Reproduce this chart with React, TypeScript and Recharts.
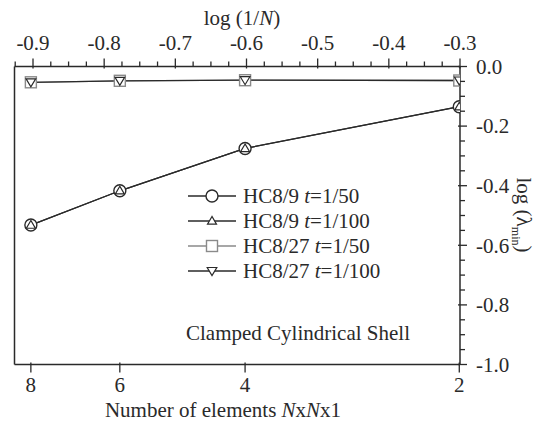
import React from "react";
import { LineChart, Line, XAxis, YAxis, Legend } from "recharts";

// Element counts N (bottom axis) and their log(1/N) positions (top axis)
const elementCounts = [8, 6, 4, 2];
const logInvN = [-0.903, -0.778, -0.602, -0.301];

// log(lambda_min) series
const hc9_t50 = [-0.532, -0.417, -0.275, -0.135];
const hc9_t100 = [-0.532, -0.417, -0.275, -0.135];
const hc27_t50 = [-0.053, -0.048, -0.046, -0.047];
const hc27_t100 = [-0.053, -0.048, -0.046, -0.047];

// Tick labels
const topMajorLabels = [-0.9, -0.8, -0.7, -0.6, -0.5, -0.4, -0.3];
const rightMajorLabels = [0.0, -0.2, -0.4, -0.6, -0.8, -1.0];

const data = logInvN.map((x, i) => ({
  x,
  n: elementCounts[i],
  a: hc9_t50[i],
  b: hc9_t100[i],
  c: hc27_t50[i],
  d: hc27_t100[i],
}));

const FONT = '"Liberation Serif", "Times New Roman", serif';
const INK = "#2a2a2a";
const GRAY = "#8a8a8a";
const FS = 21;

const topTicks: number[] = [];
for (let i = 0; i <= 25; i++) topTicks.push(Number((-0.925 + 0.025 * i).toFixed(3)));
const yTicks: number[] = [];
for (let i = 0; i <= 20; i++) yTicks.push(Number((-1 + 0.05 * i).toFixed(2)));

const near = (a: number, b: number) => Math.abs(a - b) < 1e-6;
const fmt1 = (v: number) => (Math.abs(v) < 1e-9 ? 0 : v).toFixed(1);

const TopTick = (p: any) => {
  const { x, y, payload } = p;
  const v = payload.value;
  const major = topMajorLabels.some((m) => near(m, v));
  return (
    <g>
      <line x1={x} x2={x} y1={y + (major ? 2 : 0)} y2={y - (major ? 8 : 5)} stroke={INK} strokeWidth={1.3} />
      {major && (
        <text x={x} y={y - 24} dy="0.35em" textAnchor="middle" fontFamily={FONT} fontSize={FS} fill={INK}>
          {fmt1(v)}
        </text>
      )}
    </g>
  );
};

const BottomTick = (p: any) => {
  const { x, y, payload } = p;
  const idx = logInvN.findIndex((v) => near(v, payload.value));
  return (
    <g>
      <line x1={x} x2={x} y1={y - 2} y2={y + 8} stroke={INK} strokeWidth={1.3} />
      <text x={x} y={y + 20.5} dy="0.35em" textAnchor="middle" fontFamily={FONT} fontSize={FS} fill={INK}>
        {idx >= 0 ? elementCounts[idx] : ""}
      </text>
    </g>
  );
};

const RightTick = (p: any) => {
  const { x, y, payload } = p;
  const v = payload.value;
  const major = rightMajorLabels.some((m) => near(m, v));
  return (
    <g>
      <line x1={x - (major ? 2 : 0)} x2={x + (major ? 7 : 5)} y1={y} y2={y} stroke={INK} strokeWidth={1.3} />
      {major && (
        <text x={x + 16} y={y} dy="0.35em" textAnchor="start" fontFamily={FONT} fontSize={FS} fill={INK}>
          {fmt1(v)}
        </text>
      )}
    </g>
  );
};

const LeftTick = (p: any) => {
  const { x, y, payload } = p;
  const v = payload.value;
  const major = rightMajorLabels.some((m) => near(m, v));
  return <line x1={x} x2={x - (major ? 8 : 6)} y1={y} y2={y} stroke={INK} strokeWidth={1.3} />;
};

const CircleMark = ({ cx, cy }: any) => (
  <circle cx={cx} cy={cy} r={6} fill="#fff" stroke={INK} strokeWidth={1.4} />
);
const UpTri = ({ cx, cy }: any) => (
  <polygon
    points={`${cx},${cy - 4.5} ${cx - 4.5},${cy + 3.2} ${cx + 4.5},${cy + 3.2}`}
    fill="#fff"
    stroke={INK}
    strokeWidth={1.2}
  />
);
const SquareMark = ({ cx, cy }: any) => (
  <rect x={cx - 5.5} y={cy - 5.5} width={11} height={11} fill="#fff" stroke={GRAY} strokeWidth={1.4} />
);
const DownTri = ({ cx, cy }: any) => (
  <polygon
    points={`${cx - 4.8},${cy - 3.5} ${cx + 4.8},${cy - 3.5} ${cx},${cy + 4.5}`}
    fill="#fff"
    stroke={INK}
    strokeWidth={1.2}
  />
);

const legendItems = [
  { label: "HC8/9 ", t: "1/50", color: INK, Mark: CircleMark },
  { label: "HC8/9 ", t: "1/100", color: INK, Mark: UpTri },
  { label: "HC8/27 ", t: "1/50", color: GRAY, Mark: SquareMark },
  { label: "HC8/27 ", t: "1/100", color: INK, Mark: DownTri },
];

const LegendContent = () => (
  <div style={{ fontFamily: FONT, fontSize: FS, color: INK, lineHeight: 1 }}>
    {legendItems.map((it, i) => (
      <div key={i} style={{ display: "flex", alignItems: "center", height: 25 }}>
        <svg width={48} height={20} style={{ marginRight: 7, flex: "none" }}>
          <line x1={0} x2={48} y1={10} y2={10} stroke={it.color} strokeWidth={1.3} />
          <it.Mark cx={24} cy={10} />
        </svg>
        <span style={{ whiteSpace: "nowrap" }}>
          {it.label}
          <i>t</i>={it.t}
        </span>
      </div>
    ))}
  </div>
);

const mkDot = (Mark: any) => (props: any) => <Mark key={props.index} cx={props.cx} cy={props.cy} />;

export default function App() {
  return (
    <div style={{ position: "absolute", left: 0, top: 0, width: 536, height: 422 }}>
      <LineChart
        width={536}
        height={422}
        data={data}
        margin={{ top: 0, right: 0, bottom: 0, left: 0 }}
        style={{ fontFamily: FONT }}
      >
        <XAxis
          xAxisId="top"
          orientation="top"
          dataKey="x"
          type="number"
          domain={[-0.926, -0.3]}
          ticks={topTicks}
          interval={0}
          height={66.5}
          tickSize={0}
          tickMargin={0}
          tickLine={false}
          tick={<TopTick />}
          axisLine={{ stroke: INK, strokeWidth: 1.5 }}
          allowDataOverflow
          label={{
            content: () => (
              <text x={242} y={18} dy="0.35em" textAnchor="middle" fontFamily={FONT} fontSize={FS} fill={INK}>
                <tspan>log (1/</tspan>
                <tspan fontStyle="italic">N</tspan>
                <tspan>)</tspan>
              </text>
            ),
          }}
        />
        <XAxis
          xAxisId="bottom"
          orientation="bottom"
          dataKey="x"
          type="number"
          domain={[-0.926, -0.3]}
          ticks={logInvN}
          interval={0}
          height={57.5}
          tickSize={0}
          tickMargin={0}
          tickLine={false}
          tick={<BottomTick />}
          axisLine={{ stroke: INK, strokeWidth: 1.5 }}
          allowDataOverflow
          label={{
            content: () => (
              <text x={223} y={410} dy="0.35em" textAnchor="middle" fontFamily={FONT} fontSize={FS} fill={INK}>
                <tspan>Number of elements </tspan>
                <tspan fontStyle="italic">N</tspan>
                <tspan>x</tspan>
                <tspan fontStyle="italic">N</tspan>
                <tspan>x1</tspan>
              </text>
            ),
          }}
        />
        <YAxis
          yAxisId="left"
          orientation="left"
          type="number"
          domain={[-1, 0]}
          ticks={yTicks}
          interval={0}
          width={14.5}
          tickSize={0}
          tickMargin={0}
          tickLine={false}
          tick={<LeftTick />}
          axisLine={{ stroke: INK, strokeWidth: 1.5 }}
        />
        <YAxis
          yAxisId="right"
          orientation="right"
          type="number"
          domain={[-1, 0]}
          ticks={yTicks}
          interval={0}
          width={76}
          tickSize={0}
          tickMargin={0}
          tickLine={false}
          tick={<RightTick />}
          axisLine={{ stroke: INK, strokeWidth: 1.5 }}
          label={{
            content: () => (
              <text
                x={0}
                y={0}
                transform="translate(524 215) rotate(90)"
                textAnchor="middle"
                dy="0.35em"
                fontFamily={FONT}
                fontSize={FS}
                fill={INK}
              >
                <tspan>log (λ</tspan>
                <tspan fontSize={12} dy="5">min</tspan>
                <tspan dy="-5">)</tspan>
              </text>
            ),
          }}
        />
        <Legend
          layout="vertical"
          align="center"
          verticalAlign="middle"
          content={<LegendContent />}
          wrapperStyle={{ left: 188, top: 183.5, width: 240 }}
        />
        <Line
          xAxisId="top"
          yAxisId="right"
          dataKey="a"
          stroke={INK}
          strokeWidth={1.3}
          dot={mkDot(CircleMark)}
          isAnimationActive={false}
        />
        <Line
          xAxisId="top"
          yAxisId="right"
          dataKey="b"
          stroke={INK}
          strokeWidth={1.3}
          dot={mkDot(UpTri)}
          isAnimationActive={false}
        />
        <Line
          xAxisId="top"
          yAxisId="right"
          dataKey="c"
          stroke={GRAY}
          strokeWidth={1.3}
          dot={mkDot(SquareMark)}
          isAnimationActive={false}
        />
        <Line
          xAxisId="top"
          yAxisId="right"
          dataKey="d"
          stroke={INK}
          strokeWidth={1.3}
          dot={mkDot(DownTri)}
          isAnimationActive={false}
        />
        <text x={186} y={333} dy="0.35em" fontFamily={FONT} fontSize={FS} fill={INK}>
          Clamped Cylindrical Shell
        </text>
      </LineChart>
    </div>
  );
}
